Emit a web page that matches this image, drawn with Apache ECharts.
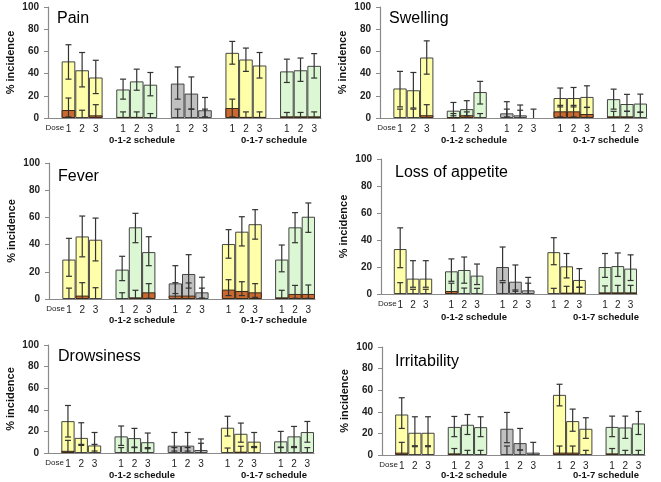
<!DOCTYPE html>
<html>
<head>
<meta charset="utf-8">
<script src="https://cdn.jsdelivr.net/npm/echarts@6/dist/echarts.min.js"></script>
<style>
  html, body { margin: 0; padding: 0; background: #fff; }
  #chart { width: 661px; height: 482px; }
</style>
</head>
<body>
<div id="chart"></div>
<script>
// x slots: a gap slot before each group of three doses
const slots = ["Dose", "1", "2", "3", "", "1", "2", "3", "", "1", "2", "3", "", "1", "2", "3", "", "1", "2", "3"];
const scheduleLabels = ["0-1-2 schedule", "0-1-7 schedule"];
const groupColors = ["#ffffaa", "#dcf7d3", "#c0c0c0", "#ffffaa", "#dcf7d3"];
const severeColor = "#c9692f";

// values per panel (15 bars: 5 groups x dose 1-3)
const painTotal = [51, 43, 36.5, 25.7, 33, 30, 31, 22, 7, 58.7, 52.7, 47.3, 42, 43, 47];
const painLow = [35, 28, 22, 17, 25, 20, 17, 8, 1, 48.5, 42, 36, 32, 33, 36];
const painHigh = [66, 59, 52, 35, 44, 41, 46, 37, 18.5, 69, 63, 59, 53, 54, 58];
const painSevere = [7.2, 0, 2.4, 1, 1, 0, 0, 0, 0, 9, 1, 1, 1.5, 1.5, 1.5];
const painSevLow = [1, 0, 0, 0, 0, 0, 0, 0, 0, 1, 0, 0, 0, 0, 0];
const painSevHigh = [18, 7, 12, 5.5, 5.5, 4, 8, 8, 8, 17, 5.5, 5.5, 5, 5, 5.5];

const swellTotal = [26.6, 25, 54.5, 6.6, 8, 23.4, 4.2, 2.4, 0, 18, 18, 19, 17, 12.6, 13];
const swellLow = [10, 9, 39.5, 2, 2, 12.6, 1, 0, 0, 10, 10, 9.5, 8, 6, 5.4];
const swellHigh = [42, 41, 69.5, 14, 15.6, 33, 14.7, 11.7, 0, 27, 27.5, 29, 26, 21.3, 21.5];
const swellSevere = [0, 0, 2.5, 0.5, 2.5, 0, 0, 0, 0, 6, 6, 3.6, 1.5, 1.5, 0];
const swellSevLow = [0, 0, 0, 0, 0, 0, 0, 0, 0, 1, 1, 0.5, 0, 0, 0];
const swellSevHigh = [8, 8, 12, 4, 5.5, 4, 8, 7, 8, 11.4, 11.4, 9.6, 6, 6, 5];

const feverTotal = [29, 46, 43.6, 21.6, 52.7, 34.5, 11.5, 18.4, 4.9, 40.4, 49.5, 55, 29, 52.7, 60.5];
const feverLow = [16.7, 31, 28, 13.5, 41.4, 24.5, 4, 8, 0.7, 30, 39, 44, 20, 41.4, 49];
const feverHigh = [44.6, 61, 59.5, 31.4, 63, 45.8, 24.5, 32.6, 16, 51, 60.5, 65.7, 39.7, 63.5, 70.6];
const feverSevere = [0, 2.5, 0, 0, 1.2, 4.9, 2.5, 2.5, 0, 6.9, 5.9, 4.9, 1.2, 3.7, 3.7];
const feverSevLow = [0, 0, 0, 0, 0, 0.5, 0, 0, 0, 2.5, 2.5, 1.2, 0, 0.5, 0.5];
const feverSevHigh = [8, 12, 8.3, 4.6, 6.4, 11.3, 12, 11.8, 8, 14.2, 12.7, 11.3, 6.4, 10, 10.3];

const appetiteTotal = [33.3, 11.4, 11.4, 16.8, 17.8, 13.6, 20, 9.1, 2.7, 31, 20.5, 10.4, 20, 20.7, 18.8];
const appetiteLow = [19.5, 5, 5, 9.4, 8, 7, 9.9, 2, 0, 21.7, 11.9, 5, 12.3, 13, 10];
const appetiteHigh = [49, 24.7, 24.7, 26, 27.4, 22.2, 34.8, 21.5, 12.3, 41.7, 30, 18.8, 30, 30.4, 29];
const appetiteSevere = [0, 0, 0, 2.2, 0, 0, 0, 0, 0, 0, 1, 1, 1.2, 1.2, 1.2];
const appetiteSevLow = [0, 0, 0, 0, 0, 0, 0, 0, 0, 0, 0, 0, 0, 0, 0];
const appetiteSevHigh = [8.4, 3.5, 3.5, 8, 4.4, 4.2, 8.4, 3, 8, 4.2, 5.7, 5, 6, 6.4, 6.4];

const drowsyTotal = [29.5, 14, 7, 15.4, 13.8, 10, 6.8, 6.8, 2.8, 23.4, 17.8, 10.5, 10.8, 15.4, 19.4];
const drowsyLow = [14.8, 7, 1.8, 7, 5.5, 4, 1.8, 1.8, 0, 15.7, 10, 5, 5.5, 6, 10];
const drowsyHigh = [44, 28, 19, 25, 22.8, 18.5, 19, 19, 13, 34, 27.7, 19, 20, 24.6, 29.2];
const drowsySevere = [2, 0, 0, 0, 0, 0, 0, 0, 0, 0, 1.2, 0, 0, 0, 0];
const drowsySevLow = [0, 0, 0, 0, 0, 0, 0, 0, 0, 0, 0, 0, 0, 0, 0];
const drowsySevHigh = [11.7, 8, 8, 5, 5, 5, 5, 5, 9, 4.6, 6.2, 6, 5, 5, 5];

const irritTotal = [37.5, 20.6, 20.6, 26, 28, 25.8, 24.3, 11, 2.2, 55.7, 31.4, 24.3, 26, 25.5, 29.2];
const irritLow = [24.6, 8.6, 8.6, 17, 19, 17, 11.4, 4.6, 0, 45.5, 22, 15.4, 17, 15.4, 19];
const irritHigh = [53, 35.4, 35.4, 35.7, 37.5, 35.4, 39.4, 24.6, 11.7, 65.5, 42.5, 34.5, 36, 36, 40.3];
const irritSevere = [2.2, 0, 0, 1.5, 0, 0, 0, 0, 0, 2.2, 2.2, 0, 1.5, 0, 0];
const irritSevLow = [0, 0, 0, 0, 0, 0, 0, 0, 0, 0, 0, 0, 0, 0, 0];
const irritSevHigh = [11.7, 7.7, 7.7, 6, 4.3, 4.3, 8.3, 4.6, 0, 8.3, 8.3, 4.3, 6, 4.3, 4.3];

// panel layout (pixels)
const panels = [
  { name: "Pain", d: [painTotal, painLow, painHigh, painSevere, painSevLow, painSevHigh],
    grid: { left: 48, top: 7, width: 273, height: 111 }, title: [57, 11], sched: [142, 274, 140.5] },
  { name: "Swelling", d: [swellTotal, swellLow, swellHigh, swellSevere, swellSevLow, swellSevHigh],
    grid: { left: 380, top: 7, width: 267, height: 111 }, title: [389, 11], sched: [474, 606, 140.5] },
  { name: "Fever", d: [feverTotal, feverLow, feverHigh, feverSevere, feverSevLow, feverSevHigh],
    grid: { left: 49, top: 163, width: 266, height: 136 }, title: [58, 169], sched: [142, 274, 320] },
  { name: "Loss of appetite", d: [appetiteTotal, appetiteLow, appetiteHigh, appetiteSevere, appetiteSevLow, appetiteSevHigh],
    grid: { left: 381, top: 159, width: 256, height: 135 }, title: [395, 165], sched: [474, 606, 317.5] },
  { name: "Drowsiness", d: [drowsyTotal, drowsyLow, drowsyHigh, drowsySevere, drowsySevLow, drowsySevHigh],
    grid: { left: 48, top: 345, width: 266, height: 108 }, title: [58, 349], sched: [142, 274, 475] },
  { name: "Irritability", d: [irritTotal, irritLow, irritHigh, irritSevere, irritSevLow, irritSevHigh],
    grid: { left: 382, top: 347, width: 263, height: 108 }, title: [395, 354], sched: [474, 606, 475] }
];

// bar index (0-14) -> slot index (0-19)
function slotOf(i) { return Math.floor(i / 3) * 4 + 1 + (i % 3); }

function toSlots(values, colorFn) {
  const out = slots.map(() => "-");
  values.forEach((v, i) => {
    out[slotOf(i)] = v > 0 ? { value: v, itemStyle: { color: colorFn(i) } } : "-";
  });
  return out;
}

function whisker(params, api) {
  const x = api.value(0), lo = api.value(1), hi = api.value(2), capLo = api.value(3);
  const top = api.coord([x, hi]);
  const bot = api.coord([x, lo]);
  const w = 3;
  const style = { stroke: "#333", lineWidth: 1.2 };
  const children = [
    { type: "line", shape: { x1: top[0], y1: top[1], x2: bot[0], y2: bot[1] }, style },
    { type: "line", shape: { x1: top[0] - w, y1: top[1], x2: top[0] + w, y2: top[1] }, style }
  ];
  if (capLo) {
    children.push({ type: "line", shape: { x1: bot[0] - w, y1: bot[1], x2: bot[0] + w, y2: bot[1] }, style });
  }
  return { type: "group", children };
}

const grid = [], xAxis = [], yAxis = [], series = [], title = [], graphic = [];

panels.forEach((p, k) => {
  const [total, low, high, severe, sevLow, sevHigh] = p.d;
  grid.push(p.grid);
  title.push({
    text: p.name, left: p.title[0], top: p.title[1], padding: 0,
    textStyle: { fontFamily: "Liberation Sans, Arial", fontSize: 16, fontWeight: "normal", color: "#000" }
  });
  xAxis.push({
    type: "category", gridIndex: k, data: slots.map((s, i) => i === 0
      ? { value: s, textStyle: { fontSize: 8, fontWeight: "normal" } } : s),
    axisLine: { lineStyle: { color: "#8a8a8a", width: 1.2 } },
    axisTick: { interval: 0, length: 3, lineStyle: { color: "#8a8a8a" } },
    axisLabel: { interval: 0, margin: 6, fontFamily: "Liberation Sans, Arial", fontSize: 10, color: "#222" }
  });
  yAxis.push({
    type: "value", gridIndex: k, min: 0, max: 100, interval: 20,
    name: "% incidence", nameLocation: "middle", nameGap: 32,
    nameTextStyle: { fontFamily: "Liberation Sans, Arial", fontSize: 11, fontWeight: "bold", color: "#111" },
    axisLine: { show: true, lineStyle: { color: "#8a8a8a", width: 1.2 } },
    axisTick: { show: true, length: 4, lineStyle: { color: "#8a8a8a" } },
    axisLabel: { margin: 9, fontFamily: "Liberation Sans, Arial", fontSize: 10, fontWeight: "bold", color: "#222" },
    splitLine: { show: false }
  });
  series.push({
    type: "bar", xAxisIndex: k, yAxisIndex: k, barGap: "-100%", barCategoryGap: 0,
    data: toSlots(total, i => groupColors[Math.floor(i / 3)]),
    itemStyle: { borderColor: "#444", borderWidth: 1 }, z: 2
  });
  series.push({
    type: "bar", xAxisIndex: k, yAxisIndex: k, barGap: "-100%", barCategoryGap: 0,
    data: toSlots(severe, () => severeColor),
    itemStyle: { borderColor: "#3a2a1a", borderWidth: 1 }, z: 3
  });
  const errData = [];
  total.forEach((v, i) => {
    if (high[i] > 0) errData.push([slotOf(i), low[i], high[i], low[i] > 0 ? 1 : 0]);
    if (sevHigh[i] > 0) errData.push([slotOf(i), sevLow[i], sevHigh[i], sevLow[i] > 0 ? 1 : 0]);
  });
  series.push({
    type: "custom", xAxisIndex: k, yAxisIndex: k, renderItem: whisker,
    encode: { x: 0, y: [1, 2] }, data: errData, z: 4, silent: true
  });
  scheduleLabels.forEach((s, j) => {
    graphic.push({
      type: "text", x: p.sched[j], y: p.sched[2],
      style: { text: s, align: "center", verticalAlign: "middle",
        font: "bold 9.5px Liberation Sans, Arial", fill: "#111" }
    });
  });
});

const chart = echarts.init(document.getElementById("chart"));
chart.setOption({
  animation: false,
  backgroundColor: "#fff",
  title, grid, xAxis, yAxis, series, graphic
});
</script>
</body>
</html>
